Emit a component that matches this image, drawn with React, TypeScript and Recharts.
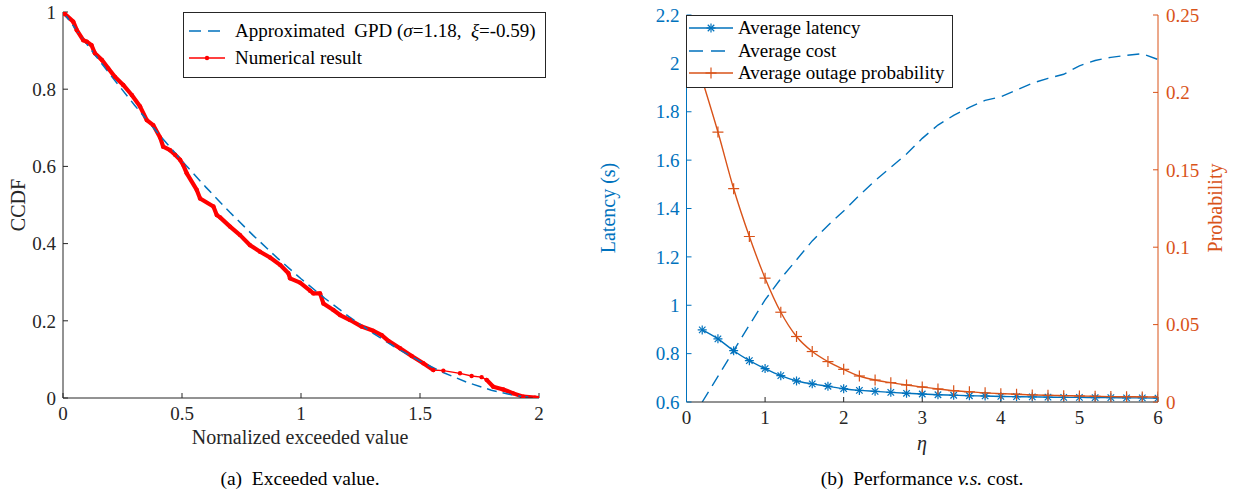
import React from 'react';
import { LineChart, Line, XAxis, YAxis, Label } from 'recharts';

// ---------- Panel (a): exceeded value ----------
const gpdX = [0, 0.1, 0.2, 0.3, 0.4, 0.5, 0.6, 0.7, 0.8, 0.9, 1.0, 1.1, 1.2, 1.3, 1.4, 1.5, 1.6, 1.7, 1.8, 1.9, 2.0];
const gpdY = [1, 0.9167, 0.8365, 0.7592, 0.6851, 0.6141, 0.5463, 0.4818, 0.4207, 0.363, 0.3089, 0.2584, 0.2116, 0.1687, 0.1299, 0.0954, 0.0654, 0.0401, 0.0202, 0.0062, 0];

const numX = [0, 0.008, 0.043, 0.058, 0.085, 0.1, 0.12, 0.134, 0.163, 0.19, 0.218, 0.253, 0.289, 0.324, 0.352, 0.379, 0.408, 0.421, 0.45, 0.471, 0.492, 0.505, 0.52, 0.562, 0.576, 0.632, 0.646, 0.66, 0.702, 0.744, 0.786, 0.828, 0.87, 0.912, 0.947, 0.954, 0.996, 1.038, 1.052, 1.08, 1.094, 1.136, 1.164, 1.206, 1.255, 1.304, 1.339, 1.367, 1.416, 1.465, 1.514, 1.556, 1.598, 1.668, 1.717, 1.759, 1.78, 1.808, 1.85, 1.892, 1.934, 1.983, 2.0];
const numY = [1, 0.995, 0.975, 0.953, 0.927, 0.923, 0.914, 0.893, 0.876, 0.854, 0.832, 0.811, 0.785, 0.755, 0.72, 0.707, 0.675, 0.651, 0.642, 0.63, 0.617, 0.604, 0.582, 0.539, 0.517, 0.496, 0.474, 0.468, 0.444, 0.422, 0.396, 0.379, 0.364, 0.345, 0.323, 0.31, 0.299, 0.278, 0.271, 0.271, 0.245, 0.228, 0.215, 0.202, 0.185, 0.174, 0.163, 0.148, 0.129, 0.109, 0.09, 0.0725, 0.071, 0.064, 0.057, 0.054, 0.047, 0.029, 0.022, 0.012, 0.0034, 0.001, 0];
// sparse (thin-line) stretches of the numerical result
const numThinRanges: [number, number][] = [[1.556, 1.78]];

const xTicksA = [0, 0.5, 1, 1.5, 2];
const yTicksA = [0, 0.2, 0.4, 0.6, 0.8, 1];

// ---------- Panel (b): performance vs cost ----------
const eta = [0.2, 0.4, 0.6, 0.8, 1.0, 1.2, 1.4, 1.6, 1.8, 2.0, 2.2, 2.4, 2.6, 2.8, 3.0, 3.2, 3.4, 3.6, 3.8, 4.0, 4.2, 4.4, 4.6, 4.8, 5.0, 5.2, 5.4, 5.6, 5.8, 6.0];
const latency = [0.898, 0.861, 0.812, 0.771, 0.738, 0.709, 0.687, 0.675, 0.665, 0.655, 0.648, 0.644, 0.64, 0.636, 0.633, 0.63, 0.628, 0.626, 0.625, 0.623, 0.622, 0.621, 0.62, 0.619, 0.619, 0.618, 0.618, 0.617, 0.617, 0.616];
const cost = [0.6, 0.706, 0.812, 0.918, 1.022, 1.11, 1.188, 1.266, 1.33, 1.39, 1.455, 1.515, 1.57, 1.625, 1.69, 1.745, 1.785, 1.818, 1.847, 1.862, 1.89, 1.918, 1.938, 1.955, 1.99, 2.012, 2.025, 2.033, 2.04, 2.016];
const outage = [0.208, 0.1744, 0.1378, 0.1069, 0.08, 0.058, 0.0423, 0.0326, 0.0261, 0.0211, 0.0168, 0.0142, 0.0125, 0.011, 0.0097, 0.0084, 0.0073, 0.0066, 0.0059, 0.0054, 0.005, 0.0046, 0.0043, 0.0041, 0.0039, 0.0037, 0.0035, 0.0034, 0.0033, 0.0032];

const xTicksB = [0, 1, 2, 3, 4, 5, 6];
const yTicksLat = [0.6, 0.8, 1, 1.2, 1.4, 1.6, 1.8, 2, 2.2];
const yTicksProb = [0, 0.05, 0.1, 0.15, 0.2, 0.25];

// ---------- derived tables ----------
const gpdData = gpdX.map((x, i) => ({ x, y: gpdY[i] }));
const numData = numX.map((x, i) => ({ x, y: numY[i] }));
const numThickData = numX.map((x, i) => ({
  x,
  y: numThinRanges.some(([a, b]) => x > a && x < b) ? null : numY[i],
}));
const perfData = eta.map((x, i) => ({ x, lat: latency[i], cost: cost[i], out: outage[i] }));

// ---------- styles ----------
const FONT = '"Liberation Serif", "Times New Roman", serif';
const AX = '#262626';
const BLUE = '#0072BD';
const ORANGE = '#D95319';
const RED = '#FF0000';
const TICK_FS = 19;
const LABEL_FS = 20;
const LEG_FS = 19;

const Asterisk = ({ cx, cy, color, s = 4.5 }: any) => {
  const d = s * 0.72;
  return (
    <g stroke={color} strokeWidth={1.2}>
      <line x1={cx - s} y1={cy} x2={cx + s} y2={cy} />
      <line x1={cx} y1={cy - s} x2={cx} y2={cy + s} />
      <line x1={cx - d} y1={cy - d} x2={cx + d} y2={cy + d} />
      <line x1={cx - d} y1={cy + d} x2={cx + d} y2={cy - d} />
    </g>
  );
};
const Plus = ({ cx, cy, color, s = 5.5 }: any) => (
  <g stroke={color} strokeWidth={1.2}>
    <line x1={cx - s} y1={cy} x2={cx + s} y2={cy} />
    <line x1={cx} y1={cy - s} x2={cx} y2={cy + s} />
  </g>
);

const asteriskDot = (p: any) =>
  p.cx == null || p.cy == null ? <g key={`a${p.index}`} /> : <g key={`a${p.index}`}><Asterisk cx={p.cx} cy={p.cy} color={BLUE} /></g>;
const plusDot = (p: any) =>
  p.cx == null || p.cy == null ? <g key={`p${p.index}`} /> : <g key={`p${p.index}`}><Plus cx={p.cx} cy={p.cy} color={ORANGE} /></g>;
const redDot = (p: any) =>
  p.cx == null || p.cy == null ? <g key={`r${p.index}`} /> : <circle key={`r${p.index}`} cx={p.cx} cy={p.cy} r={2.2} fill={RED} stroke="none" />;

const emptyTick = () => <g />;
const tickStyle = (fill: string) => ({ fontSize: TICK_FS, fill, fontFamily: FONT });

const LegendRow = ({ top, sample, children, textLeft }: any) => (
  <div style={{ position: 'absolute', left: 0, top, height: 24, width: '100%', display: 'flex', alignItems: 'center' }}>
    <svg width={textLeft} height={24} style={{ flex: 'none' }}>{sample}</svg>
    <span style={{ whiteSpace: 'pre', lineHeight: '24px', color: '#000' }}>{children}</span>
  </div>
);

const RB = 20; // extra room left of panel (b) for its y label

export default function App() {
  return (
    <div style={{ position: 'absolute', left: 0, top: 0, width: 1236, height: 493, background: '#fff', fontFamily: FONT, overflow: 'hidden' }}>
      {/* ---------------- Panel (a) ---------------- */}
      <div style={{ position: 'absolute', left: 0, top: 0 }}>
        <LineChart width={600} height={460} margin={{ top: 12, right: 61, left: 13, bottom: 22 }} style={{ fontFamily: FONT }}>
          <XAxis xAxisId="b" type="number" dataKey="x" domain={[0, 2]} ticks={xTicksA} allowDataOverflow
            stroke={AX} tickSize={-5} tickMargin={14} height={40}
            tick={tickStyle(AX)} tickFormatter={(v: number) => String(v)}>
            <Label content={() => (
              <text x={300} y={437} textAnchor="middle" dominantBaseline="central" fontSize={LABEL_FS} fontFamily={FONT} fill={AX}>Nornalized exceeded value</text>
            )} />
          </XAxis>
          <XAxis xAxisId="t" orientation="top" type="number" dataKey="x" domain={[0, 2]} ticks={xTicksA} allowDataOverflow
            stroke={AX} tickSize={-5} height={0} tick={emptyTick} />
          <YAxis yAxisId="l" type="number" domain={[0, 1]} ticks={yTicksA} allowDataOverflow
            stroke={AX} tickSize={-5} tickMargin={12} width={50}
            tick={tickStyle(AX)} tickFormatter={(v: number) => String(v)}>
            <Label content={() => (
              <text x={18} y={205} transform="rotate(-90 18 205)" textAnchor="middle" dominantBaseline="central" fontSize={LABEL_FS} fontFamily={FONT} fill={AX}>CCDF</text>
            )} />
          </YAxis>
          <YAxis yAxisId="r" orientation="right" type="number" domain={[0, 1]} ticks={yTicksA} allowDataOverflow
            stroke={AX} tickSize={-5} width={0} tick={emptyTick} />
          <Line xAxisId="b" yAxisId="l" data={numThickData} dataKey="y" type="linear" stroke={RED} strokeWidth={4.2}
            strokeLinejoin="round" strokeLinecap="round" dot={false} isAnimationActive={false} connectNulls={false} />
          <Line xAxisId="b" yAxisId="l" data={numData} dataKey="y" type="linear" stroke={RED} strokeWidth={1.3}
            dot={redDot} activeDot={false} isAnimationActive={false} />
          <Line xAxisId="b" yAxisId="l" data={gpdData} dataKey="y" type="linear" stroke={BLUE} strokeWidth={1.5}
            strokeDasharray="10 6" dot={false} activeDot={false} isAnimationActive={false} />
        </LineChart>
      </div>
      {/* legend (a) */}
      <div style={{ position: 'absolute', left: 183, top: 12, width: 363, height: 66, border: `1px solid ${AX}`, background: '#fff', boxSizing: 'border-box', fontSize: LEG_FS }}>
        <LegendRow top={6} textLeft={51} sample={
          <line x1={5} y1={12} x2={41} y2={12} stroke={BLUE} strokeWidth={1.5} strokeDasharray="12 7" />
        }>
          Approximated  GPD (<i>σ</i>=1.18,  <i>ξ</i>=-0.59)
        </LegendRow>
        <LegendRow top={33} textLeft={51} sample={
          <g><line x1={5} y1={12} x2={41} y2={12} stroke={RED} strokeWidth={1.3} /><circle cx={23} cy={12} r={2.2} fill={RED} /></g>
        }>
          Numerical result
        </LegendRow>
      </div>
      {/* caption (a) */}
      <div style={{ position: 'absolute', left: 100, width: 400, top: 467, textAlign: 'center', fontSize: 19.5, lineHeight: '24px', whiteSpace: 'pre', color: '#000' }}>
        (a)  Exceeded value.
      </div>

      {/* ---------------- Panel (b) ---------------- */}
      <div style={{ position: 'absolute', left: 600 - RB, top: 0 }}>
        <LineChart width={636 + RB} height={460} data={perfData} margin={{ top: 15, right: 28, left: 36.5 + RB, bottom: 18 }} style={{ fontFamily: FONT }}>
          <XAxis xAxisId="b" type="number" dataKey="x" domain={[0, 6]} ticks={xTicksB} allowDataOverflow
            stroke={AX} tickSize={-5} tickMargin={14} height={40}
            tick={tickStyle(AX)}>
            <Label content={() => (
              <text x={322 + RB} y={443} textAnchor="middle" dominantBaseline="central" fontSize={LABEL_FS} fontFamily={FONT} fontStyle="italic" fill={AX}>η</text>
            )} />
          </XAxis>
          <XAxis xAxisId="t" orientation="top" type="number" dataKey="x" domain={[0, 6]} ticks={xTicksB} allowDataOverflow
            stroke={AX} tickSize={-5} height={0} tick={emptyTick} />
          <YAxis yAxisId="lat" type="number" domain={[0.6, 2.2]} ticks={yTicksLat} allowDataOverflow
            stroke={BLUE} tickSize={-5} tickMargin={12} width={50}
            tick={tickStyle(BLUE)} tickFormatter={(v: number) => String(v)}>
            <Label content={() => (
              <text x={8 + RB} y={208} transform={`rotate(-90 ${8 + RB} 208)`} textAnchor="middle" dominantBaseline="central" fontSize={LABEL_FS} fontFamily={FONT} fill={BLUE}>Latency (s)</text>
            )} />
          </YAxis>
          <YAxis yAxisId="prob" orientation="right" type="number" domain={[0, 0.25]} ticks={yTicksProb} allowDataOverflow
            stroke={ORANGE} tickSize={-5} tickMargin={13} width={50}
            tick={tickStyle(ORANGE)} tickFormatter={(v: number) => String(v)}>
            <Label content={() => (
              <text x={615 + RB} y={208} transform={`rotate(-90 ${615 + RB} 208)`} textAnchor="middle" dominantBaseline="central" fontSize={LABEL_FS} fontFamily={FONT} fill={ORANGE}>Probability</text>
            )} />
          </YAxis>
          <Line xAxisId="b" yAxisId="lat" dataKey="cost" type="linear" stroke={BLUE} strokeWidth={1.4}
            strokeDasharray="12 7" dot={false} activeDot={false} isAnimationActive={false} />
          <Line xAxisId="b" yAxisId="lat" dataKey="lat" type="monotone" stroke={BLUE} strokeWidth={1.4}
            dot={asteriskDot} activeDot={false} isAnimationActive={false} />
          <Line xAxisId="b" yAxisId="prob" dataKey="out" type="monotone" stroke={ORANGE} strokeWidth={1.4}
            dot={plusDot} activeDot={false} isAnimationActive={false} />
        </LineChart>
      </div>
      {/* legend (b) */}
      <div style={{ position: 'absolute', left: 686, top: 15, width: 267, height: 73, border: `1px solid ${AX}`, background: '#fff', boxSizing: 'border-box', fontSize: LEG_FS }}>
        <LegendRow top={0} textLeft={51} sample={
          <g><line x1={2} y1={12} x2={46} y2={12} stroke={BLUE} strokeWidth={1.4} /><Asterisk cx={24} cy={12} color={BLUE} /></g>
        }>
          Average latency
        </LegendRow>
        <LegendRow top={22.5} textLeft={51} sample={
          <line x1={2} y1={12} x2={46} y2={12} stroke={BLUE} strokeWidth={1.4} strokeDasharray="14 8" />
        }>
          Average cost
        </LegendRow>
        <LegendRow top={45} textLeft={51} sample={
          <g><line x1={2} y1={12} x2={46} y2={12} stroke={ORANGE} strokeWidth={1.4} /><Plus cx={24} cy={12} color={ORANGE} /></g>
        }>
          Average outage probability
        </LegendRow>
      </div>
      {/* caption (b) */}
      <div style={{ position: 'absolute', left: 722, width: 400, top: 467, textAlign: 'center', fontSize: 19.5, lineHeight: '24px', whiteSpace: 'pre', color: '#000' }}>
        (b)  Performance <i>v.s.</i> cost.
      </div>
    </div>
  );
}
